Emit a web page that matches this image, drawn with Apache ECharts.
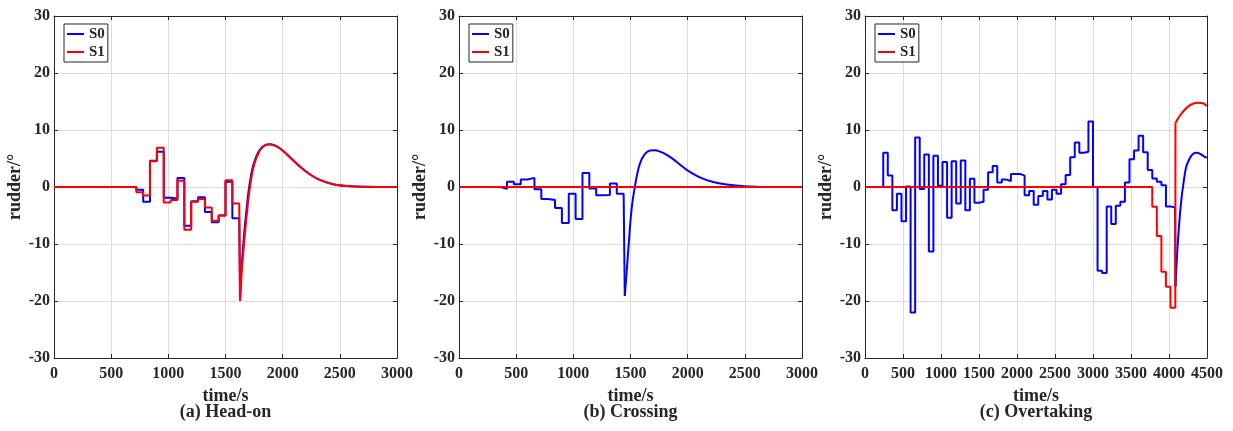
<!DOCTYPE html>
<html lang="en">
<head>
<meta charset="UTF-8">
<title>rudder</title>
<script src="https://cdn.jsdelivr.net/npm/echarts@6/dist/echarts.min.js"></script>
<style>
  html, body { margin: 0; padding: 0; background: #fff; }
  #chart { width: 1233px; height: 431px; }
</style>
</head>
<body>
<div id="chart"></div>
<script type="text/javascript">
// (a) Head-on : step edges, held values, then the recovery curve
var aEdges = [720, 780, 840, 900, 960, 1020, 1080, 1140, 1200, 1260, 1320, 1380, 1440, 1500, 1560, 1620];
var aS0Steps = [-0.5, -2.6, 4.6, 6.2, -1.9, -2.0, 1.6, -6.8, -2.5, -1.8, -4.4, -6.2, -5.0, 0.9, -5.5];
var aS1Steps = [-0.9, -1.5, 4.5, 6.9, -2.7, -2.3, 1.1, -7.5, -2.6, -2.1, -3.6, -5.9, -5.0, 1.2, -2.9];
var aS0CurveT = [1627, 1636, 1647, 1656, 1668, 1681, 1693, 1707, 1723, 1745, 1784, 1826, 1886, 1940, 2000, 2070, 2150, 2240, 2330, 2440, 2560, 2700, 3000];
var aS0CurveV = [-20, -15.5, -12.3, -10, -7.1, -4.5, -2.2, 0, 2.0, 4.0, 6.0, 7.1, 7.5, 7.2, 6.4, 5.1, 3.6, 2.2, 1.2, 0.5, 0.18, 0.03, 0];
var aS1CurveT = [1628, 1640, 1652, 1662, 1675, 1688, 1700, 1714, 1730, 1752, 1790, 1831, 1889, 1940, 2000, 2070, 2150, 2240, 2330, 2440, 2560, 2700, 3000];
var aS1CurveV = [-20, -15.5, -12.3, -10, -7.1, -4.5, -2.2, 0, 2.0, 4.0, 6.0, 7.1, 7.5, 7.2, 6.4, 5.1, 3.6, 2.2, 1.2, 0.5, 0.18, 0.03, 0];

// (b) Crossing
var bEdges = [360, 420, 480, 540, 600, 660, 720, 780, 840, 900, 960, 1020, 1080, 1140, 1200, 1260, 1320, 1380, 1440];
var bS0Steps = [-0.3, 0.9, 0.5, 1.3, 1.6, -0.4, -2.1, -2.3, -3.7, -6.3, -1.2, -5.6, 2.45, -0.25, -1.46, -1.4, 0.6, -1.2];
var bS0CurveT = [1450, 1472, 1490, 1505, 1520, 1540, 1554, 1583, 1627, 1671, 1715, 1759, 1817, 1875, 1934, 1992, 2080, 2167, 2284, 2400, 2500, 2600, 2700, 3000];
var bS0CurveV = [-19.1, -13.4, -8.5, -4.8, -2.2, 0.2, 1.8, 4.15, 5.8, 6.4, 6.45, 6.2, 5.65, 4.85, 3.9, 3.0, 1.95, 1.2, 0.6, 0.3, 0.14, 0.05, 0.01, 0];

// (c) Overtaking
var cS0Edges = [240, 300, 360, 420, 480, 540, 600, 660, 720, 780, 840, 900, 960, 1020, 1080, 1140,
  1200, 1260, 1320, 1380, 1440, 1500, 1560, 1620, 1680, 1740, 1800, 1860, 1920, 1980, 2040, 2100,
  2160, 2220, 2280, 2340, 2400, 2460, 2520, 2580, 2640, 2700, 2760, 2820, 2880, 2940, 3000, 3060,
  3120, 3180, 3240, 3300, 3360, 3420, 3480, 3540, 3600, 3660, 3720, 3780, 3840, 3900, 3960, 4020, 4080];
var cS0Steps = [6.0, 2.0, -4.1, -1.2, -6.0, 0.1, -22.0, 8.7, -0.35, 5.7, -11.3, 5.5, 0.2, 4.4, -5.4, 4.5,
  -2.9, 4.65, -4.1, 1.45, -2.75, -2.6, -0.5, 2.6, 3.7, 0.8, 1.3, 1.05, 2.3, 2.3, 2.0, -1.45,
  -0.7, -3.1, -1.6, -0.7, -2.2, -0.5, -1.2, 0.47, 2.1, 5.2, 7.8, 6.0, 6.2, 11.5, 0, -14.7,
  -15.1, -3.4, -6.5, -3.3, -2.6, 0.8, 4.85, 6.4, 9.0, 6.1, 3.0, 1.5, 0.9, 0.3, -3.4, -3.6];
var cS0CurveT = [4085, 4105, 4131, 4162, 4193, 4228, 4272, 4315, 4368, 4425, 4469, 4500];
var cS0CurveV = [-17.5, -12.2, -7.0, -2.3, 0.9, 3.6, 5.0, 5.8, 6.0, 5.7, 5.3, 5.15];
var cS1Edges = [3780, 3840, 3900, 3960, 4020, 4083];
var cS1Steps = [-3.45, -8.6, -14.85, -17.5, -21.2];
var cS1CurveT = [4085, 4118, 4150, 4184, 4250, 4315, 4381, 4447, 4500];
var cS1CurveV = [11.2, 12.0, 12.6, 13.2, 14.1, 14.6, 14.8, 14.7, 14.2];

var xMaxes = [3000, 3000, 4500];
var yTicks = [-30, 30, 10];
var captions = ['(a) Head-on', '(b) Crossing', '(c) Overtaking'];

var FONT = 'Liberation Serif';
var INK = '#262626';
var BLUE = '#0000ff';
var RED = '#ff0000';

// held values -> polyline, ending at the first point of the following curve
function stepPoints(edges, steps, nextT, nextV) {
    var pts = [[0, 0], [edges[0], 0]];
    for (var i = 0; i < steps.length; i++) {
        pts.push([edges[i], steps[i]]);
        pts.push([edges[i + 1], steps[i]]);
    }
    if (nextT !== undefined) pts.push([nextT, nextV]);
    return pts;
}
function pairs(ts, vs) {
    return ts.map(function (t, i) { return [t, vs[i]]; });
}
function plain(v) { return String(v); }

var grids = [
    { left: 54, top: 16, width: 343, height: 342 },
    { left: 459, top: 16, width: 343, height: 342 },
    { left: 865, top: 16, width: 342, height: 342 }
];

var labelStyle = { color: INK, fontFamily: FONT, fontWeight: 'bold', fontSize: 16 };

var xAxes = [], yAxes = [], legends = [], graphics = [];
grids.forEach(function (g, i) {
    var common = {
        gridIndex: i,
        type: 'value',
        axisLine: { onZero: false, lineStyle: { color: INK, width: 1 } },
        axisTick: { inside: true, length: 4, lineStyle: { color: INK } }
    };
    xAxes.push(Object.assign({}, common, {
        min: 0, max: xMaxes[i], interval: 500, position: 'bottom',
        axisLabel: Object.assign({ margin: 8, formatter: plain }, labelStyle),
        splitLine: { show: true, lineStyle: { color: '#dcdcdc', width: 1 } },
        name: 'time/s', nameLocation: 'middle', nameGap: 24,
        nameTextStyle: { color: INK, fontFamily: FONT, fontWeight: 'bold', fontSize: 18 }
    }));
    xAxes.push(Object.assign({}, common, {
        min: 0, max: xMaxes[i], interval: 500, position: 'top',
        axisLabel: { show: false }, splitLine: { show: false }
    }));
    yAxes.push(Object.assign({}, common, {
        min: yTicks[0], max: yTicks[1], interval: yTicks[2], position: 'left',
        axisLabel: Object.assign({ margin: 4, formatter: plain }, labelStyle),
        splitLine: { show: true, lineStyle: { color: '#dcdcdc', width: 1 } },
        name: 'rudder/°', nameLocation: 'middle', nameGap: 19,
        nameTextStyle: { color: INK, fontFamily: FONT, fontWeight: 'bold', fontSize: 18 }
    }));
    yAxes.push(Object.assign({}, common, {
        min: yTicks[0], max: yTicks[1], interval: yTicks[2], position: 'right',
        axisLabel: { show: false }, splitLine: { show: false }
    }));
    legends.push({
        data: ['S0', 'S1'],
        orient: 'vertical',
        left: g.left + 10, top: 24,
        icon: 'rect', itemWidth: 17, itemHeight: 2, itemGap: 2, itemTextGap: 3,
        padding: [2, 3, 2, 3],
        borderColor: INK, borderWidth: 1, backgroundColor: '#fff',
        textStyle: { color: INK, fontFamily: FONT, fontWeight: 'bold', fontSize: 15, lineHeight: 16 }
    });
    graphics.push({
        type: 'text',
        x: g.left + g.width / 2, y: 412,
        style: {
            text: captions[i], textAlign: 'center', textVerticalAlign: 'middle',
            fill: INK, fontFamily: FONT, fontWeight: 'bold', fontSize: 18
        }
    });
});

function line(name, color, data, panel, smooth) {
    return {
        name: name, type: 'line', data: data,
        xAxisIndex: panel * 2, yAxisIndex: panel * 2,
        symbol: 'none', smooth: smooth ? 0.35 : false,
        lineStyle: { color: color, width: 2 }, itemStyle: { color: color },
        animation: false
    };
}

var series = [
    line('S0', BLUE, stepPoints(aEdges, aS0Steps, aS0CurveT[0], aS0CurveV[0]), 0),
    line('S0', BLUE, pairs(aS0CurveT, aS0CurveV), 0, true),
    line('S1', RED, stepPoints(aEdges, aS1Steps, aS1CurveT[0], aS1CurveV[0]), 0),
    line('S1', RED, pairs(aS1CurveT, aS1CurveV), 0, true),

    line('S0', BLUE, stepPoints(bEdges, bS0Steps, bS0CurveT[0], bS0CurveV[0]), 1),
    line('S0', BLUE, pairs(bS0CurveT, bS0CurveV), 1, true),
    line('S1', RED, [[0, 0], [3000, 0]], 1),

    line('S0', BLUE, stepPoints(cS0Edges, cS0Steps, cS0CurveT[0], cS0CurveV[0]), 2),
    line('S0', BLUE, pairs(cS0CurveT, cS0CurveV), 2, true),
    line('S1', RED, stepPoints(cS1Edges, cS1Steps, cS1CurveT[0], cS1CurveV[0]), 2),
    line('S1', RED, pairs(cS1CurveT, cS1CurveV), 2, true)
];

var myChart = echarts.init(document.getElementById('chart'));
myChart.setOption({
    animation: false,
    textStyle: { fontFamily: FONT, fontWeight: 'bold', color: INK },
    grid: grids,
    xAxis: xAxes,
    yAxis: yAxes,
    legend: legends,
    graphic: graphics,
    series: series
});
</script>
</body>
</html>
